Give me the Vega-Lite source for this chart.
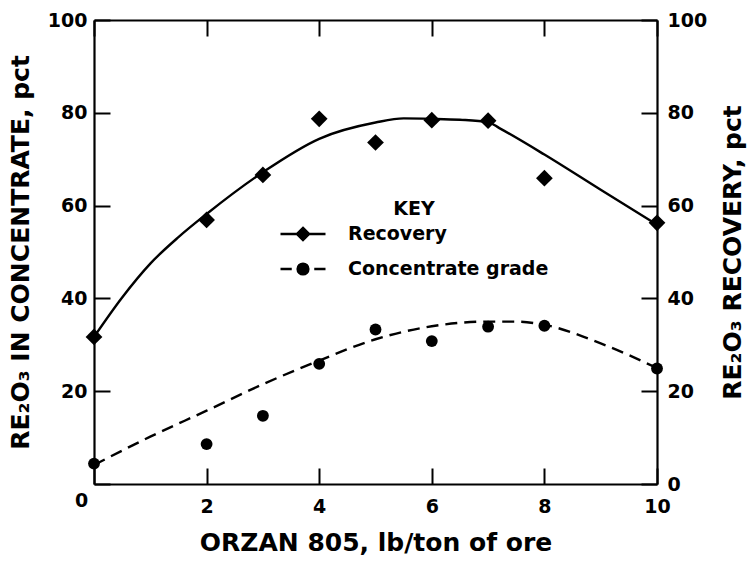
{
  "$schema": "https://vega.github.io/schema/vega-lite/v6.json",
  "width": 563,
  "height": 464,
  "autosize": "none",
  "padding": {"left": 94, "top": 20, "right": 93, "bottom": 80},
  "background": "white",
  "config": {
    "view": {"stroke": null},
    "font": "DejaVu Sans",
    "axis": {
      "domainColor": "black",
      "domainWidth": 2.2,
      "tickColor": "black",
      "tickWidth": 2,
      "tickSize": -16,
      "grid": false,
      "labelFlush": false,
      "labelColor": "black",
      "labelFont": "DejaVu Sans",
      "labelFontSize": 19,
      "labelFontWeight": "bold",
      "titleColor": "black",
      "titleFont": "DejaVu Sans",
      "titleFontSize": 25,
      "titleFontWeight": "bold"
    }
  },
  "datasets": {
    "points": [
      {"x": 0, "series": "Recovery", "value": 31.7},
      {"x": 2, "series": "Recovery", "value": 56.9},
      {"x": 3, "series": "Recovery", "value": 66.6},
      {"x": 4, "series": "Recovery", "value": 78.7},
      {"x": 5, "series": "Recovery", "value": 73.6},
      {"x": 6, "series": "Recovery", "value": 78.4},
      {"x": 7, "series": "Recovery", "value": 78.3},
      {"x": 8, "series": "Recovery", "value": 65.9},
      {"x": 10, "series": "Recovery", "value": 56.3},
      {"x": 0, "series": "Concentrate grade", "value": 4.4},
      {"x": 2, "series": "Concentrate grade", "value": 8.6},
      {"x": 3, "series": "Concentrate grade", "value": 14.7},
      {"x": 4, "series": "Concentrate grade", "value": 25.9},
      {"x": 5, "series": "Concentrate grade", "value": 33.3},
      {"x": 6, "series": "Concentrate grade", "value": 30.8},
      {"x": 7, "series": "Concentrate grade", "value": 33.9},
      {"x": 8, "series": "Concentrate grade", "value": 34.1},
      {"x": 10, "series": "Concentrate grade", "value": 24.9}
    ],
    "curves": [
      {"x": 0, "series": "Recovery", "value": 31.7},
      {"x": 0.5, "series": "Recovery", "value": 40.2},
      {"x": 1, "series": "Recovery", "value": 47.5},
      {"x": 1.5, "series": "Recovery", "value": 53.2},
      {"x": 2, "series": "Recovery", "value": 58.2},
      {"x": 3, "series": "Recovery", "value": 67.2},
      {"x": 4, "series": "Recovery", "value": 74.4},
      {"x": 5, "series": "Recovery", "value": 77.9},
      {"x": 5.5, "series": "Recovery", "value": 78.8},
      {"x": 6, "series": "Recovery", "value": 78.7},
      {"x": 6.5, "series": "Recovery", "value": 78.5},
      {"x": 7, "series": "Recovery", "value": 78.0},
      {"x": 7.2, "series": "Recovery", "value": 76.7},
      {"x": 8, "series": "Recovery", "value": 71.0},
      {"x": 9, "series": "Recovery", "value": 63.4},
      {"x": 10, "series": "Recovery", "value": 55.9},
      {"x": 0, "series": "Concentrate grade", "value": 4.1},
      {"x": 1, "series": "Concentrate grade", "value": 10.2},
      {"x": 2, "series": "Concentrate grade", "value": 15.8},
      {"x": 3, "series": "Concentrate grade", "value": 21.5},
      {"x": 4, "series": "Concentrate grade", "value": 26.6},
      {"x": 5, "series": "Concentrate grade", "value": 31.2},
      {"x": 6, "series": "Concentrate grade", "value": 34.0},
      {"x": 7, "series": "Concentrate grade", "value": 35.0},
      {"x": 7.5, "series": "Concentrate grade", "value": 35.0},
      {"x": 8, "series": "Concentrate grade", "value": 34.3},
      {"x": 9, "series": "Concentrate grade", "value": 30.3},
      {"x": 10, "series": "Concentrate grade", "value": 25.0}
    ]
  },
  "layer": [
    {
      "encoding": {
        "x": {
          "field": "x", "type": "quantitative",
          "scale": {"domain": [0, 10], "nice": false, "zero": false},
          "axis": {
            "orient": "bottom", "values": [0, 2, 4, 6, 8, 10],
            "labelPadding": {"condition": {"test": "datum.value === 0", "value": 23}, "value": 29},
            "labelOffset": {"condition": {"test": "datum.value === 0", "value": -13}, "value": 0},
            "title": "ORZAN 805, lb/ton of ore", "titlePadding": 14
          }
        },
        "y": {
          "field": "value", "type": "quantitative",
          "scale": {"domain": [0, 100], "nice": false},
          "axis": {"orient": "left", "values": [0, 20, 40, 60, 80, 100], "labelPadding": 23, "labelExpr": "datum.value === 0 ? '' : datum.label", "title": "RE₂O₃ IN CONCENTRATE, pct", "titlePadding": 14}
        }
      },
      "layer": [
        {
          "data": {"name": "curves"},
          "transform": [{"filter": "datum.series === 'Concentrate grade'"}],
          "mark": {"type": "line", "color": "black", "strokeWidth": 2.4, "strokeDash": [12, 7], "interpolate": "monotone"}
        },
        {
          "data": {"name": "points"},
          "transform": [{"filter": "datum.series === 'Concentrate grade'"}],
          "mark": {"type": "point", "filled": true, "color": "black", "opacity": 1, "size": 140, "shape": "circle"}
        },
        {
          "data": {"name": "points"},
          "transform": [{"filter": "false"}],
          "mark": {"type": "point", "filled": true, "fill": "black", "stroke": "black", "strokeWidth": 2.4, "opacity": 1},
          "encoding": {
            "shape": {
              "field": "series", "type": "nominal",
              "scale": {
                "domain": ["Recovery", "Concentrate grade"],
                "range": [
                  "M-1,0L1,0M0,-0.27L0.27,0L0,0.27L-0.27,0Z",
                  "M-1,0L-0.5,0M0.5,0L1,0M0.24,0A0.24,0.24 0 1,1 -0.24,0A0.24,0.24 0 1,1 0.24,0Z"
                ]
              },
              "legend": {
                "orient": "none", "legendX": 185, "legendY": 180,
                "title": "KEY", "titleFontSize": 19, "titleFont": "DejaVu Sans", "titleFontWeight": "bold", "titleColor": "black", "titleAnchor": "middle", "titlePadding": -9,
                "labelFontSize": 19, "labelFont": "DejaVu Sans", "labelFontWeight": "bold", "labelColor": "black", "labelOffset": 21, "labelLimit": 400, "rowPadding": -3,
                "symbolSize": 2025, "symbolStrokeWidth": 2.4, "symbolOpacity": 1
              }
            }
          }
        }
      ]
    },
    {
      "encoding": {
        "x": {
          "field": "x", "type": "quantitative",
          "scale": {"domain": [0, 10], "nice": false, "zero": false},
          "axis": {"orient": "top", "values": [0, 2, 4, 6, 8, 10], "labels": false, "title": null}
        },
        "y": {
          "field": "value", "type": "quantitative",
          "scale": {"domain": [0, 100], "nice": false},
          "axis": {"orient": "right", "values": [0, 20, 40, 60, 80, 100], "labelPadding": 26, "title": "RE₂O₃ RECOVERY, pct", "titleAngle": 270, "titlePadding": 39}
        }
      },
      "layer": [
        {
          "data": {"name": "curves"},
          "transform": [{"filter": "datum.series === 'Recovery'"}],
          "mark": {"type": "line", "color": "black", "strokeWidth": 2.4, "interpolate": "monotone"}
        },
        {
          "data": {"name": "points"},
          "transform": [{"filter": "datum.series === 'Recovery'"}],
          "mark": {"type": "point", "filled": true, "color": "black", "opacity": 1, "size": 280, "shape": "diamond"}
        }
      ]
    }
  ],
  "resolve": {"scale": {"x": "independent", "y": "independent"}}
}
